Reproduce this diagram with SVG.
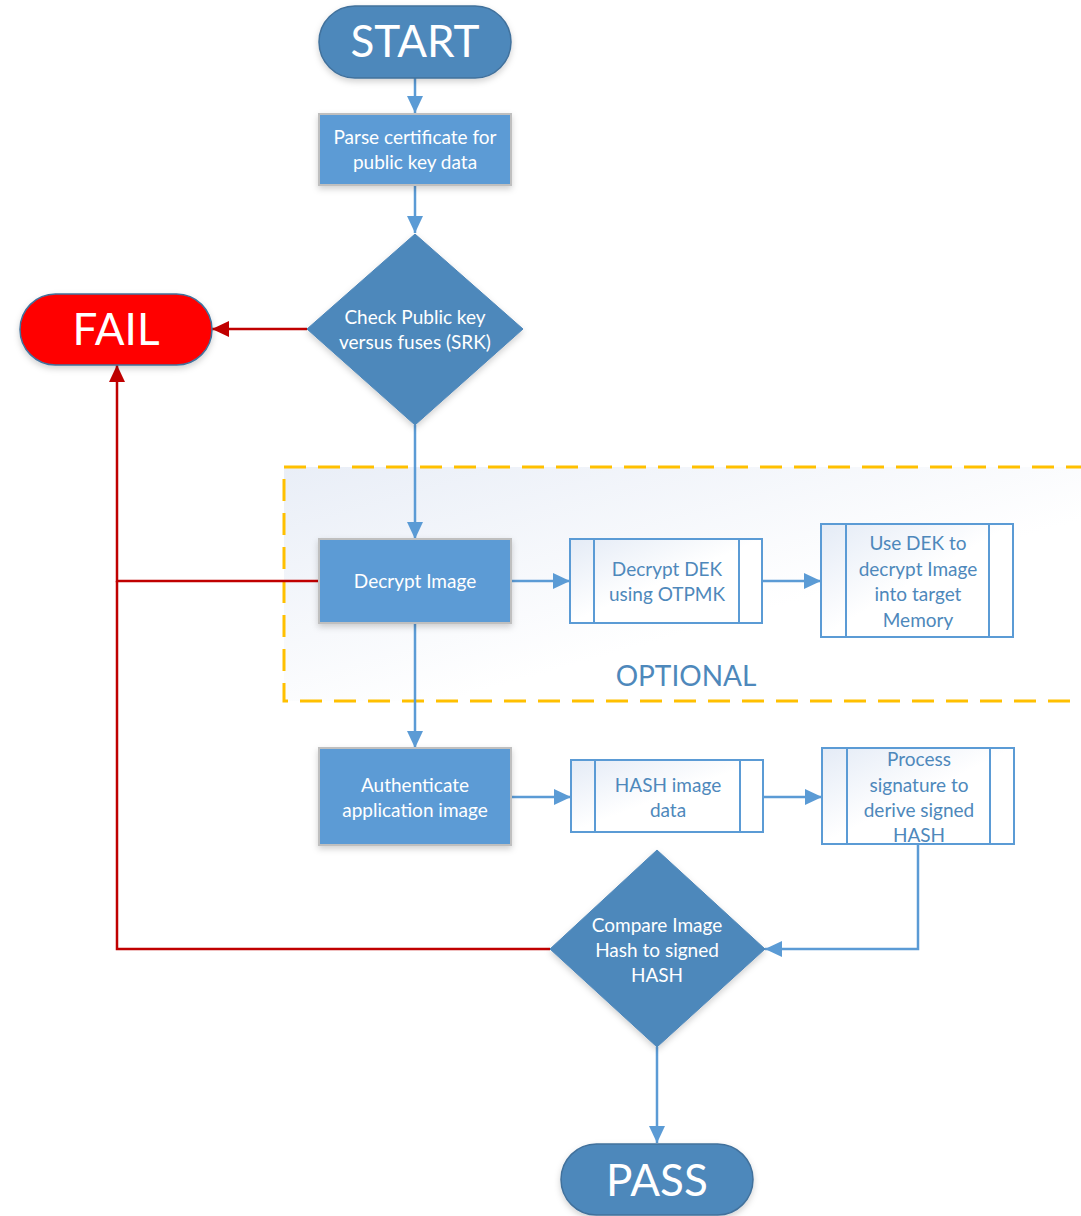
<svg xmlns="http://www.w3.org/2000/svg" width="1081" height="1216" viewBox="0 0 1081 1216">
<style>
.term{fill:#4E88BB;stroke:#41719C;stroke-width:1.5}
.fail{fill:#FF0000;stroke:#41719C;stroke-width:1.5}
.proc{fill:#5B9BD5;stroke:#BFBFBF;stroke-width:2}
.dec{fill:#4E88BB;stroke:#4E88BB;stroke-width:1}
.pre{fill:url(#preg);stroke:#5B9BD5;stroke-width:2}
.preline{stroke:#5B9BD5;stroke-width:2}
.wt{fill:#FFFFFF;font-family:Lato,"Liberation Sans",sans-serif;font-size:19px;text-anchor:middle}
.bt{fill:#4E88BB;font-family:Lato,"Liberation Sans",sans-serif;font-size:19px;text-anchor:middle}
.big{fill:#FFFFFF;font-family:Lato,"Liberation Sans",sans-serif;font-size:44px;text-anchor:middle}
.blue{fill:none;stroke:#5B9BD5;stroke-width:2.5}
.red{fill:none;stroke:#C00000;stroke-width:2.5}
</style>
<defs>
<linearGradient id="preg" x1="0" y1="0" x2="1" y2="1">
<stop offset="0" stop-color="#E4EBF6"/>
<stop offset="0.5" stop-color="#FFFFFF"/>
<stop offset="1" stop-color="#FFFFFF"/>
</linearGradient>
<linearGradient id="optg" x1="0" y1="0" x2="1" y2="1">
<stop offset="0" stop-color="#E9EEF7"/>
<stop offset="0.6" stop-color="#FFFFFF"/>
</linearGradient>
<filter id="sh" x="-20%" y="-20%" width="140%" height="150%">
<feDropShadow dx="0" dy="3" stdDeviation="3" flood-color="#000" flood-opacity="0.18"/>
</filter>
<marker id="ab" markerUnits="userSpaceOnUse" markerWidth="18" markerHeight="16" refX="17" refY="8" orient="auto">
<path d="M0,0 L17,8 L0,16 Z" fill="#5B9BD5"/>
</marker>
<marker id="ar" markerUnits="userSpaceOnUse" markerWidth="18" markerHeight="16" refX="17" refY="8" orient="auto">
<path d="M0,0 L17,8 L0,16 Z" fill="#C00000"/>
</marker>
</defs>

<g id="optional">
<rect x="284" y="467" width="820" height="234" fill="url(#optg)" stroke="#FFC000" stroke-width="3" stroke-dasharray="22,12"/>
<text x="686" y="686" font-family="Lato,'Liberation Sans',sans-serif" font-size="28" fill="#4E88BB" text-anchor="middle">OPTIONAL</text>
</g>

<g id="connectors">
<path class="blue" d="M415,78 L415,113" marker-end="url(#ab)"/>
<path class="blue" d="M415,185 L415,233" marker-end="url(#ab)"/>
<path class="blue" d="M415,425 L415,539" marker-end="url(#ab)"/>
<path class="blue" d="M511,581 L570,581" marker-end="url(#ab)"/>
<path class="blue" d="M762,581 L821,581" marker-end="url(#ab)"/>
<path class="blue" d="M415,623 L415,748" marker-end="url(#ab)"/>
<path class="blue" d="M511,797 L571,797" marker-end="url(#ab)"/>
<path class="blue" d="M763,797 L822,797" marker-end="url(#ab)"/>
<path class="blue" d="M918,844 L918,949 L765,949" marker-end="url(#ab)"/>
<path class="blue" d="M657,1047 L657,1143" marker-end="url(#ab)"/>
<path class="red" d="M307,329 L212,329" marker-end="url(#ar)"/>
<path class="red" d="M319,581 L117,581 L117,365" marker-end="url(#ar)"/>
<path class="red" d="M550,949 L117,949 L117,581"/>
</g>

<g id="start">
<rect class="term" x="319" y="6" width="192" height="72" rx="36" filter="url(#sh)"/>
<text class="big" x="415" y="57">START</text>
</g>

<g id="parse">
<rect class="proc" x="319" y="114" width="192" height="71" filter="url(#sh)"/>
<text class="wt" x="415" y="144">Parse certificate for</text>
<text class="wt" x="415" y="169">public key data</text>
</g>

<g id="check">
<polygon class="dec" points="415,234 523,329 415,425 307,329" filter="url(#sh)"/>
<text class="wt" x="415" y="324">Check Public key</text>
<text class="wt" x="415" y="349">versus fuses (SRK)</text>
</g>

<g id="fail">
<rect class="fail" x="20" y="294" width="192" height="71" rx="35.5" filter="url(#sh)"/>
<text class="big" x="116" y="345" font-size="40">FAIL</text>
</g>

<g id="decrypt">
<rect class="proc" x="319" y="539" width="192" height="84" filter="url(#sh)"/>
<text class="wt" x="415" y="588">Decrypt Image</text>
</g>

<g id="decryptdek">
<rect class="pre" x="570" y="539" width="192" height="84"/>
<line class="preline" x1="594" y1="539" x2="594" y2="623"/>
<line class="preline" x1="739" y1="539" x2="739" y2="623"/>
<text class="bt" x="667" y="576">Decrypt DEK</text>
<text class="bt" x="667" y="601">using OTPMK</text>
</g>

<g id="usedek">
<rect class="pre" x="821" y="524" width="192" height="113"/>
<line class="preline" x1="846" y1="524" x2="846" y2="637"/>
<line class="preline" x1="989" y1="524" x2="989" y2="637"/>
<text class="bt" x="918" y="550">Use DEK to</text>
<text class="bt" x="918" y="576">decrypt Image</text>
<text class="bt" x="918" y="601">into target</text>
<text class="bt" x="918" y="627">Memory</text>
</g>

<g id="auth">
<rect class="proc" x="319" y="748" width="192" height="97" filter="url(#sh)"/>
<text class="wt" x="415" y="792">Authenticate</text>
<text class="wt" x="415" y="817">application image</text>
</g>

<g id="hash">
<rect class="pre" x="571" y="760" width="192" height="72"/>
<line class="preline" x1="595" y1="760" x2="595" y2="832"/>
<line class="preline" x1="740" y1="760" x2="740" y2="832"/>
<text class="bt" x="668" y="792">HASH image</text>
<text class="bt" x="668" y="817">data</text>
</g>

<g id="process">
<rect class="pre" x="822" y="748" width="192" height="96"/>
<line class="preline" x1="847" y1="748" x2="847" y2="844"/>
<line class="preline" x1="990" y1="748" x2="990" y2="844"/>
<text class="bt" x="919" y="766">Process</text>
<text class="bt" x="919" y="792">signature to</text>
<text class="bt" x="919" y="817">derive signed</text>
<text class="bt" x="919" y="842">HASH</text>
</g>

<g id="compare">
<polygon class="dec" points="657,850 765,949 657,1047 550,949" filter="url(#sh)"/>
<text class="wt" x="657" y="932">Compare Image</text>
<text class="wt" x="657" y="957">Hash to signed</text>
<text class="wt" x="657" y="982">HASH</text>
</g>

<g id="pass">
<rect class="term" x="561" y="1144" width="192" height="71" rx="35.5" filter="url(#sh)"/>
<text class="big" x="657" y="1196" font-size="42">PASS</text>
</g>
</svg>
